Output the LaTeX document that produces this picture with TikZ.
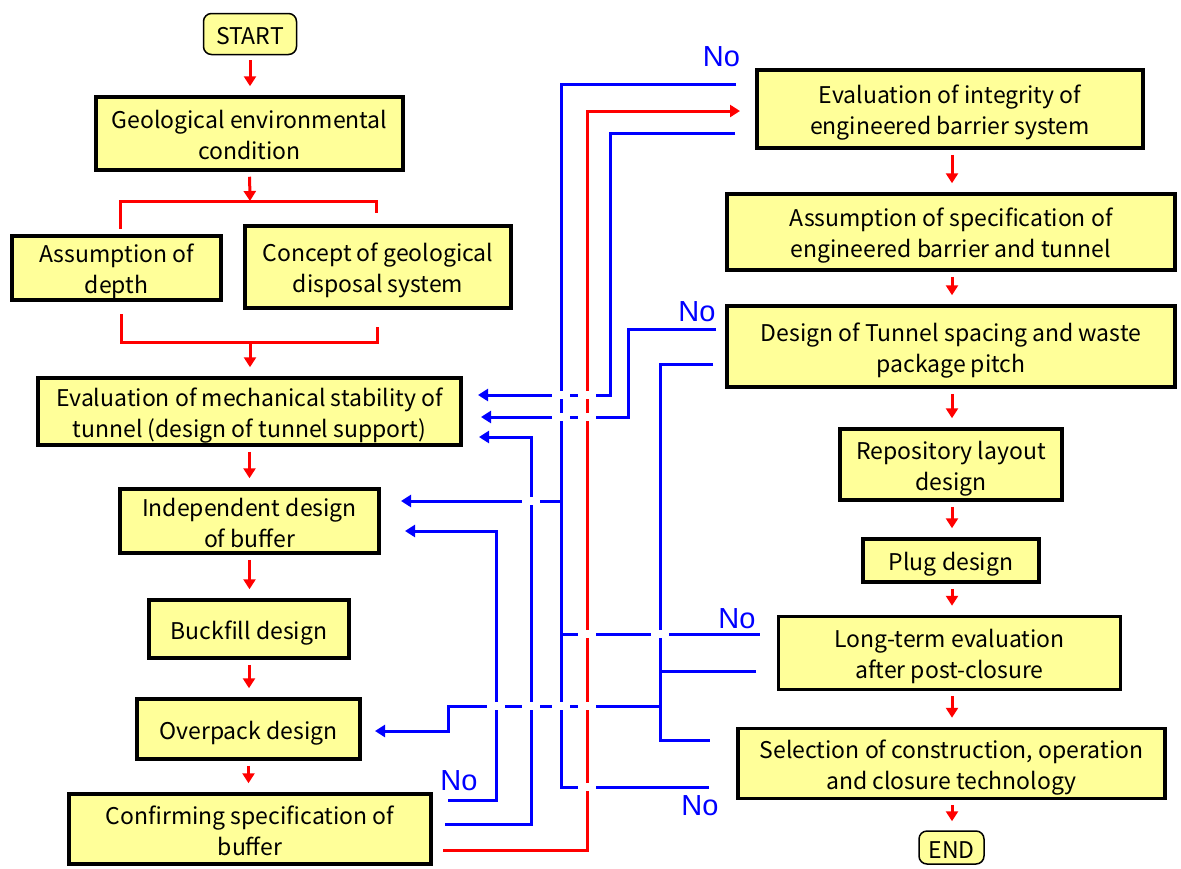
\documentclass[tikz,border=0pt]{standalone}
\usepackage{fontspec}
\usetikzlibrary{arrows.meta}
\newfontfamily\boxfont{Noto Sans CJK JP}
\newfontfamily\nofont{Liberation Sans}
\definecolor{boxyellow}{RGB}{255,255,153}
\definecolor{flowred}{RGB}{255,0,0}
\definecolor{flowblue}{RGB}{0,0,255}
% struts that fix the first-line height and the last-line depth of box texts
\newcommand\topstrut{\rule{0pt}{26pt}}
\newcommand\botstrut{\rule[-5pt]{0pt}{5pt}}

\begin{document}
\begin{tikzpicture}[x=1pt,y=-1pt,
  box/.style={draw=black, line width=3.5pt, fill=boxyellow, align=center,
    inner sep=0pt, font=\boxfont\fontsize{23}{31}\selectfont},
  termbox/.style={box, line width=1.5pt, rounded corners=8pt},
  tip/.style={-{Triangle[width=12pt,length=10pt]}},
  redline/.style={draw=flowred, line width=3pt},
  redarr/.style={redline, tip, shorten <=5pt, shorten >=9pt},
  fb/.style={draw=flowblue, line width=3pt},
  fbarr/.style={fb, tip},
  nolab/.style={text=flowblue, inner sep=0pt, font=\nofont\fontsize{29}{29}\selectfont}
]
\useasboundingbox (0,0) rectangle (1181,868);

% ---- left column ----
\node[termbox, minimum width=93pt, minimum height=41pt] (start) at (250,34) {\topstrut START\botstrut};
\node[box, minimum width=307pt, minimum height=73pt] (geo) at (249.5,133.5) {\topstrut Geological environmental\\condition\botstrut};
\node[box, minimum width=209pt, minimum height=64pt] (depth) at (116.5,268) {\topstrut Assumption of\\depth\botstrut};
\node[box, minimum width=266pt, minimum height=82pt] (concept) at (378,267) {\topstrut Concept of geological\\disposal system\botstrut};
\node[box, minimum width=423pt, minimum height=67pt] (mech) at (249.5,411.5) {\topstrut Evaluation of mechanical stability of\\tunnel (design of tunnel support)\botstrut};
\node[box, minimum width=259pt, minimum height=64pt] (indep) at (249.5,521) {\topstrut Independent design\\of buffer\botstrut};
\node[box, minimum width=200pt, minimum height=58pt] (backfill) at (249,629) {\topstrut Buckfill design\botstrut};
\node[box, minimum width=223pt, minimum height=60pt] (overpack) at (248.5,729) {\topstrut Overpack design\botstrut};
\node[box, minimum width=362pt, minimum height=70pt] (confirm) at (250,829) {\topstrut Confirming specification of\\buffer\botstrut};

% ---- right column ----
\node[box, minimum width=386pt, minimum height=78pt] (integ) at (950,109) {\topstrut Evaluation of integrity of\\engineered barrier system\botstrut};
\node[box, minimum width=448pt, minimum height=76pt] (assume) at (951,232) {\topstrut Assumption of specification of\\engineered barrier and tunnel\botstrut};
\node[box, minimum width=448pt, minimum height=81pt] (spacing) at (951,346.5) {\topstrut Design of Tunnel spacing and waste\\package pitch\botstrut};
\node[box, minimum width=222pt, minimum height=71pt] (layout) at (951,464.5) {\topstrut Repository layout\\design\botstrut};
\node[box, minimum width=176pt, minimum height=43pt] (plug) at (951,560.5) {\topstrut Plug design\botstrut};
\node[box, minimum width=342pt, minimum height=73pt] (longterm) at (949.5,653) {\topstrut Long-term evaluation\\after post-closure\botstrut};
\node[box, minimum width=427pt, minimum height=70pt] (select) at (951.5,763.5) {\topstrut Selection of construction, operation\\and closure technology\botstrut};
\node[termbox, minimum width=65pt, minimum height=33pt] (end) at (951.5,847.5) {\topstrut END\botstrut};

% ---- main flow (red) ----
\draw[redarr] (start.south) -- (start.south |- geo.north);
\coordinate (fork) at (250,201);
\coordinate (forkl) at (120,229);
\coordinate (forkr) at (376,213);
\draw[redarr, shorten >=0pt] (geo.south) -- (fork);
\draw[redline] (forkl) |- (fork) -| (forkr);
\coordinate (joinl) at (121,314);
\coordinate (joinr) at (377,327);
\coordinate (join) at (250,342);
\draw[redline] (joinl) -- (joinl |- join) -- (joinr |- join) -- (joinr);
\draw[redarr, shorten <=0pt] (join) -- (join |- mech.north);
\draw[redarr] (mech.south) -- (mech.south |- indep.north);
\draw[redarr] (indep.south) -- (indep.south |- backfill.north);
\draw[redarr] (backfill.south) -- (backfill.south |- overpack.north);
\draw[redarr] (overpack.south) -- (overpack.south |- confirm.north);

\draw[redarr] (integ.south -| 952,0) -- (assume.north -| 952,0);
\draw[redarr] (assume.south -| 952,0) -- (spacing.north -| 952,0);
\draw[redarr] (spacing.south -| 952,0) -- (layout.north -| 952,0);
\draw[redarr] (layout.south -| 952,0) -- (plug.north -| 952,0);
\draw[redarr] (plug.south -| 952,0) -- (longterm.north -| 952,0);
\draw[redarr] (longterm.south -| 952,0) -- (select.north -| 952,0);
\draw[redarr] (select.south -| 952,0) -- (end.north -| 952,0);

% ---- free ends of the feedback connectors ----
\coordinate (i1) at (736,84);
\coordinate (i2) at (740,111);
\coordinate (i3) at (735,133);
\coordinate (s1) at (716,329);
\coordinate (s2) at (713,364);
\coordinate (l1) at (760,634);
\coordinate (l2) at (756,671);
\coordinate (e1) at (710,740);
\coordinate (e2) at (709,787);
\coordinate (m1) at (478,395);
\coordinate (m2) at (481,417);
\coordinate (m3) at (479,437);
\coordinate (b1) at (401,501);
\coordinate (b2) at (405,531);
\coordinate (o1) at (375,731);
\coordinate (c1) at (448,800);
\coordinate (c2) at (445,824);
\coordinate (c3) at (443,850);

% ---- feedback connectors ----
\draw[fb] (i1) -- (561,84) -- (561,787) -- (e2);
\draw[fb] (561,634) -- (l1);
\draw[fbarr] (561,501) -- (b1);
\draw[redline, tip] (c3) -- (587,850) -- (587,111) -- (i2);
\draw[fbarr] (i3) -- (610,133) -- (610,395) -- (m1);
\draw[fbarr] (s1) -- (628,329) -- (628,417) -- (m2);
\draw[fb] (s2) -- (660,364) -- (660,740) -- (e1);
\draw[fb] (l2) -- (660,671);
\draw[fbarr] (660,706) -- (448,706) -- (448,731) -- (o1);
\draw[fbarr] (c2) -- (531,824) -- (531,437) -- (m3);
\draw[fbarr] (c1) -- (496,800) -- (496,531) -- (b2);

% ---- breaks where connectors cross ----
\foreach \p in {(561,395),(587,395),(561,417),(587,417),(531,501),
                (587,634),(660,634),(496,706),(531,706),(561,706),(587,706),
                (587,787)}
  \fill[white] \p ++(-9,-4) rectangle ++(18,8);

% ---- labels ----
\node[nolab] (no1) at (721.5,57) {No};
\node[nolab] (no2) at (697,311.5) {No};
\node[nolab] (no3) at (737,619) {No};
\node[nolab] (no4) at (459,781) {No};
\node[nolab] (no5) at (700,806) {No};
\end{tikzpicture}
\end{document}
